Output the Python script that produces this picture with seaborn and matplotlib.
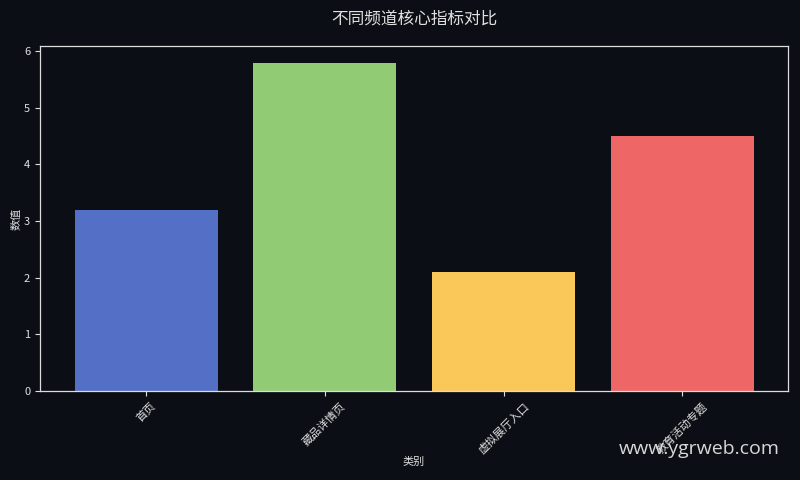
import matplotlib
matplotlib.use("Agg")
import matplotlib.pyplot as plt
import seaborn as sns

# chart data
categories = ["首页", "藏品详情页", "虚拟展厅入口", "教育活动专题"]
values = [3.2, 5.8, 2.1, 4.5]
bar_colors = ["#5470c6", "#91cc75", "#fac858", "#ee6666"]

bg = "#0b0e14"
fg = "#e0e0e0"

sns.set_theme(style="dark")
plt.rcParams["font.family"] = ["Noto Sans CJK SC", "DejaVu Sans"]
plt.rcParams["axes.unicode_minus"] = False

fig, ax = plt.subplots(figsize=(8, 4.8), dpi=100)
fig.patch.set_facecolor(bg)
ax.set_facecolor(bg)

sns.barplot(x=categories, y=values, hue=categories, palette=bar_colors,
            width=0.8, saturation=1, legend=False, linewidth=0, ax=ax)
ax.set_xlim(-0.593, 3.59)
ax.set_ylim(0, 6.09)

# title and labels
ax.set_title("不同频道核心指标对比", color=fg, fontsize=12, pad=16)
ax.set_xlabel("类别", color=fg, fontsize=8, labelpad=1)
ax.set_ylabel("数值", color=fg, fontsize=8, labelpad=2)

ax.tick_params(axis="both", colors=fg, labelsize=8, length=3.5, width=0.8,
               bottom=True, left=True)
plt.setp(ax.get_xticklabels(), rotation=45, ha="center")

for s in ax.spines.values():
    s.set_visible(True)
    s.set_color("#dddddd")
    s.set_linewidth(0.9)
ax.grid(False)

plt.subplots_adjust(left=0.05, right=0.985, top=0.904, bottom=0.1854)

# watermark
fig.text(0.975, 0.065, "www.ygrweb.com", color="#d8d8d8", fontsize=14,
         ha="right", va="center", family=["Open Sans", "DejaVu Sans"])

plt.savefig("out.png", dpi=100, facecolor=bg)
plt.close()
